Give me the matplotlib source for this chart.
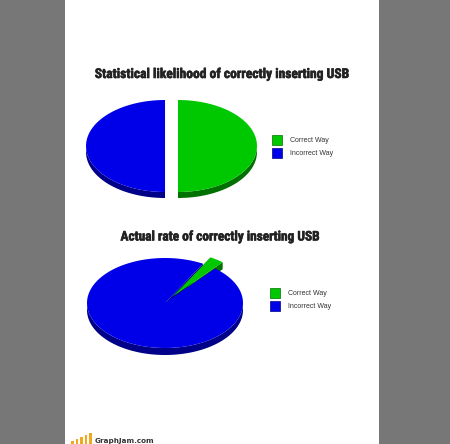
import matplotlib
matplotlib.use('Agg')
import matplotlib.pyplot as plt
from matplotlib.patches import Polygon, Rectangle
from matplotlib import font_manager
import matplotlib.patheffects as pe
import numpy as np

# chart data
labels = ['Correct Way', 'Incorrect Way']
likelihood = [50, 50]
actual = [3, 97]
titles = ['Statistical likelihood of correctly inserting USB',
          'Actual rate of correctly inserting USB']

face_colors = ['#00c800', '#0000e8']
side_colors = ['#007000', '#000088']

W, H = 450, 444
fig = plt.figure(figsize=(W / 100, H / 100), dpi=100)
fig.patch.set_facecolor('#777777')
ax = fig.add_axes([0, 0, 1, 1])
ax.set_xlim(0, W)
ax.set_ylim(H, 0)
ax.axis('off')

# white page in the middle
ax.add_patch(Rectangle((65, 0), 314, H, facecolor='white', edgecolor='none'))

# pick a narrow bold face for the titles if one is around
names = {f.name for f in font_manager.fontManager.ttflist}
title_family = 'DejaVu Sans'
for fam in ['Liberation Sans Narrow', 'Roboto Condensed']:
    if fam in names:
        title_family = fam
        break


def pt(cx, cy, a, b, t):
    return cx + a * np.cos(t), cy - b * np.sin(t)


def pie3d(values, cx, cy, a, b, depth, start, explode):
    fracs = np.array(values, dtype=float) / sum(values)
    theta = np.radians(start)
    wedges = []
    for f, ex, fc, sc in zip(fracs, explode, face_colors, side_colors):
        t0, t1 = theta, theta + 2 * np.pi * f
        mid = (t0 + t1) / 2
        x0, y0 = cx + ex * a * np.cos(mid), cy - ex * b * np.sin(mid)
        wedges.append((t0, t1, x0, y0, fc, sc))
        theta = t1

    # sides first
    for t0, t1, x0, y0, fc, sc in wedges:
        for t in (t0, t1):
            px, py = pt(x0, y0, a, b, t)
            ax.add_patch(Polygon([(x0, y0), (px, py), (px, py + depth), (x0, y0 + depth)],
                                 closed=True, facecolor=sc, edgecolor='none'))
        ts = np.linspace(t0, t1, 300)
        front = ts[np.sin(ts) <= 0]
        if front.size > 1:
            xs, ys = pt(x0, y0, a, b, front)
            poly = list(zip(xs, ys)) + list(zip(xs[::-1], ys[::-1] + depth))
            ax.add_patch(Polygon(poly, closed=True, facecolor=sc, edgecolor='none'))

    # then the top faces
    for t0, t1, x0, y0, fc, sc in wedges:
        ts = np.linspace(t0, t1, 300)
        xs, ys = pt(x0, y0, a, b, ts)
        poly = [(x0, y0)] + list(zip(xs, ys))
        ax.add_patch(Polygon(poly, closed=True, facecolor=fc, edgecolor='none'))


def legend(x, y):
    for i, lab in enumerate(labels):
        yy = y + i * 13
        ax.add_patch(Rectangle((x, yy), 10, 10, facecolor=face_colors[i],
                               edgecolor=side_colors[i], linewidth=0.5))
        ax.text(x + 18, yy + 5, lab, fontsize=5, color='#333333',
                family='Liberation Sans', ha='left', va='center')


def title(txt, x, y, width):
    t = ax.text(x, y, txt, fontsize=10, fontweight='bold', fontstretch='condensed',
                family=title_family, color='#222222', ha='center', va='center',
                path_effects=[pe.withStroke(linewidth=0.4, foreground='#222222')])
    fig.canvas.draw()
    w = t.get_window_extent().width
    t.set_fontsize(10 * width / w)


# top chart
title(titles[0], 221.5, 74, 255)
pie3d(likelihood, 171.5, 146, 79, 46, 6, -90, [0.082, 0.082])
legend(272, 135)

# bottom chart
title(titles[1], 219.5, 237, 199)
pie3d(actual, 165, 303, 78, 45, 7, 50, [0.17, 0])
legend(270, 288)

# site logo
logo_bars = [3, 5, 7, 9, 11]
for i, h in enumerate(logo_bars):
    ax.add_patch(Rectangle((71 + i * 4.5, H - h), 2.5, h, facecolor='#f2a81d', edgecolor='none'))
ax.text(95, 441, 'GraphJam.com', fontsize=5.2, fontweight='bold', color='#333333',
        ha='left', va='center')

fig.savefig('out.png', dpi=100, facecolor=fig.get_facecolor())
